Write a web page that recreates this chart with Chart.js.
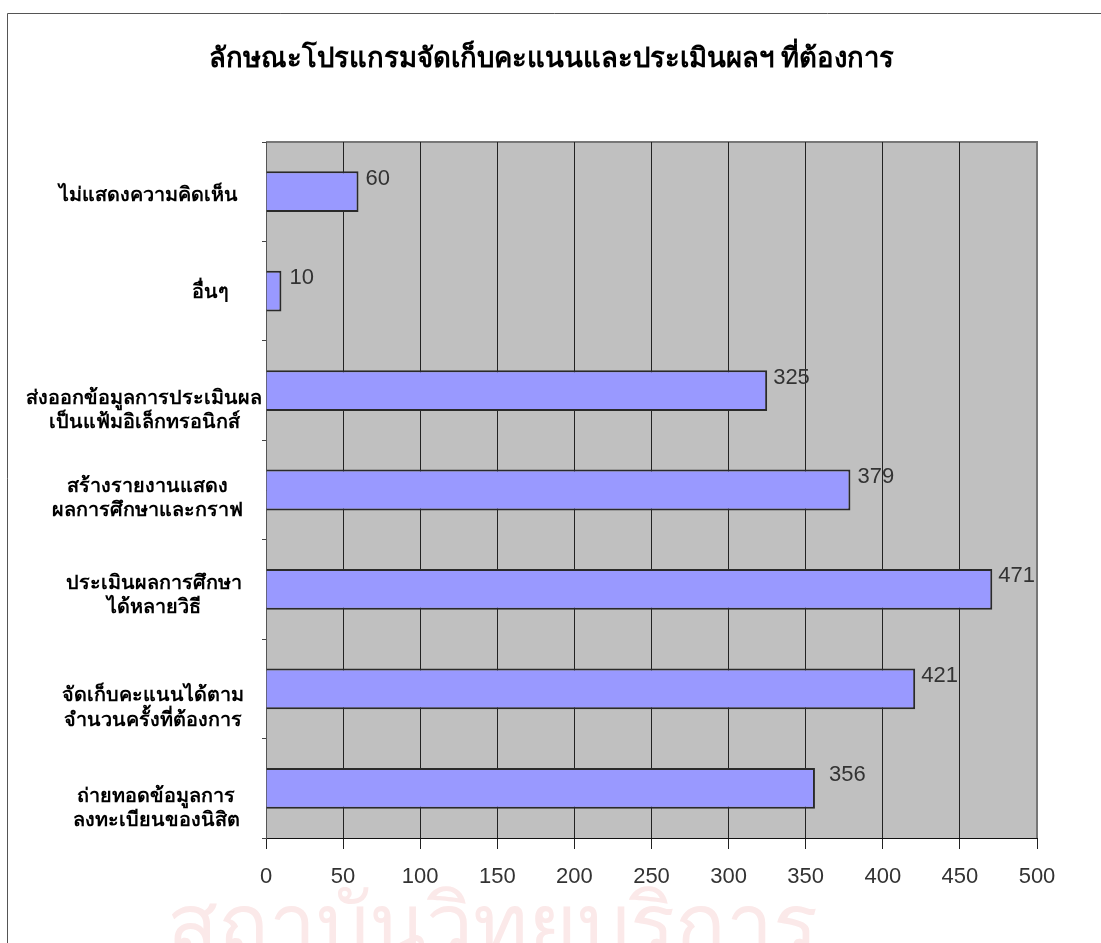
<!DOCTYPE html>
<html><head><meta charset="utf-8">
<style>
html,body{margin:0;padding:0;background:#fff;overflow:hidden}
#wrap{position:relative;width:1101px;height:943px}
canvas{position:absolute;left:0;top:0}
</style>
<script src="https://cdn.jsdelivr.net/npm/chart.js@4"></script>
</head><body><div id="wrap"><canvas id="c" width="1101" height="943"></canvas></div>
<script>
const titleText = 'ลักษณะโปรแกรมจัดเก็บคะแนนและประเมินผลฯ ที่ต้องการ';
const categories = [
  ['ไม่แสดงความคิดเห็น'],
  ['อื่นๆ'],
  ['ส่งออกข้อมูลการประเมินผล','เป็นแฟ้มอิเล็กทรอนิกส์'],
  ['สร้างรายงานแสดง','ผลการศึกษาและกราฟ'],
  ['ประเมินผลการศึกษา','ได้หลายวิธี'],
  ['จัดเก็บคะแนนได้ตาม','จำนวนครั้งที่ต้องการ'],
  ['ถ่ายทอดข้อมูลการ','ลงทะเบียนของนิสิต']
];
const values = [60, 10, 325, 379, 471, 421, 356];
const watermark = 'สถาบันวิทยบริการ';
// style-only nudges, per category
const labelNudgeX = [4, 66, 0, 3, 10, 9, 12];
const labelNudgeY = [4, 1, 20, 8, 6, 19, 20];
const valueGapX = [7, 8, 6, 7, 6, 6, 14];
const thai = '"Noto Sans", "DejaVu Sans", "Liberation Sans", sans-serif';
const num = '"Liberation Sans", Arial, sans-serif';

const decor = {
  id:'decor',
  beforeDraw(chart){
    const {ctx,chartArea:a,width,height}=chart;
    ctx.save();
    ctx.fillStyle='#fff';ctx.fillRect(0,0,width,height);
    ctx.fillStyle='#fbe9e9';ctx.font='84px '+thai;ctx.textAlign='center';ctx.textBaseline='alphabetic';
    ctx.fillText(watermark,492,954);
    ctx.fillStyle='#c0c0c0';ctx.fillRect(a.left,a.top,a.right-a.left,a.bottom-a.top);
    ctx.strokeStyle='#777';ctx.lineWidth=2;
    ctx.beginPath();ctx.moveTo(a.left,a.top);ctx.lineTo(a.right,a.top);ctx.lineTo(a.right,a.bottom);ctx.stroke();
    ctx.strokeStyle='#555';ctx.lineWidth=1;
    ctx.beginPath();ctx.moveTo(7.5,height);ctx.lineTo(7.5,13.5);ctx.lineTo(width,13.5);ctx.stroke();
    ctx.restore();
    const items=chart.scales.y.getLabelItems();
    items.forEach((it,i)=>{
      if(it.nudged) return; it.nudged=true;
      it.options.translation=[it.options.translation[0]+labelNudgeX[i],it.options.translation[1]+labelNudgeY[i]];
    });
  },
  afterDatasetsDraw(chart){
    const {ctx}=chart;const xs=chart.scales.x,ys=chart.scales.y;
    ctx.save();ctx.fillStyle='#333';ctx.font='22px '+num;ctx.textAlign='left';ctx.textBaseline='middle';
    values.forEach((v,i)=>ctx.fillText(String(v),xs.getPixelForValue(v)+valueGapX[i],ys.getPixelForValue(i)-13));
    ctx.restore();
  }
};
Chart.defaults.animation=false;
new Chart(document.getElementById('c'),{
  type:'bar',
  data:{labels:categories,datasets:[{data:values,backgroundColor:'#9999ff',borderColor:'#2a2a2a',borderWidth:2,barPercentage:0.41,categoryPercentage:1}]},
  plugins:[decor],
  options:{
    indexAxis:'y',responsive:false,animation:false,
    layout:{padding:{top:0,left:2,right:0,bottom:0}},
    plugins:{legend:{display:false},tooltip:{enabled:false},
      title:{display:true,text:titleText,color:'#000',font:{family:thai,size:27.5,weight:'bold',lineHeight:1.2},padding:{top:43,bottom:66}}},
    scales:{
      x:{min:0,max:500,
        afterFit(s){s.height=105;},
        grid:{color:c=>c.tick&&c.tick.value===500?'#777':'#222',lineWidth:1,tickColor:'#222',tickLength:11,drawOnChartArea:true},
        border:{color:'#111'},
        ticks:{stepSize:50,padding:15,color:'#333',maxRotation:0,autoSkip:false,font:{family:num,size:22}}},
      y:{
        afterFit(s){s.width=264;},
        grid:{drawOnChartArea:false,color:'#444',tickLength:4,offset:true},
        border:{color:'#555'},
        ticks:{crossAlign:'center',padding:0,color:'#000',autoSkip:false,font:{family:thai,size:19.8,lineHeight:1.22,weight:'bold'}}},
      r:{type:'linear',position:'right',display:true,afterFit(s){s.width=64;},
        grid:{display:false},border:{display:false},ticks:{display:false}}
    }
  }
});
</script></body></html>
